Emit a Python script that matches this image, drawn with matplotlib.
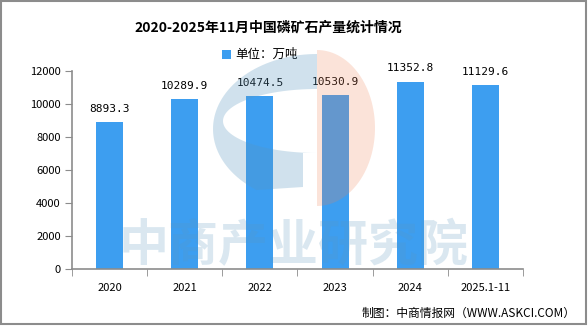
import numpy as np
import matplotlib.pyplot as plt
from matplotlib.patches import Rectangle, Polygon

plt.rcParams['font.family'] = ['Noto Sans CJK SC', 'DejaVu Sans']

years = ['2020', '2021', '2022', '2023', '2024', '2025.1-11']
output = [8893.3, 10289.9, 10474.5, 10530.9, 11352.8, 11129.6]
value_text = ['8893.3', '10289.9', '10474.5', '10530.9', '11352.8', '11129.6']

bar_color = '#3d9ef0'
axis_color = '#8c8c8c'

fig = plt.figure(figsize=(5.88, 3.27), dpi=100)
ax = fig.add_axes([0.1224, 0.177, 0.7670, 0.606])

x = np.arange(len(years))
ax.bar(x, output, width=0.36, color=bar_color, zorder=2)
for xi, v, t in zip(x, output, value_text):
    ax.annotate(t, (xi, v), xytext=(0, 6), textcoords='offset points',
                ha='center', va='bottom', fontsize=8,
                family=['DejaVu Sans Mono'])

ax.set_xlim(-0.5, len(years) - 0.5)
ax.set_ylim(0, 12000)
ax.set_yticks(np.arange(0, 12001, 2000))
ax.set_xticks(x)
ax.set_xticklabels(years)
ax.set_xticks(np.arange(-0.5, len(years), 1.0), minor=True)
ax.tick_params(axis='x', which='major', length=0, pad=10, labelsize=8)
ax.tick_params(axis='x', which='minor', length=5, color=axis_color, direction='out')
ax.tick_params(axis='y', length=5, color=axis_color, labelsize=8, pad=3)
for s in ['top', 'right']:
    ax.spines[s].set_visible(False)
for s in ['left', 'bottom']:
    ax.spines[s].set_color(axis_color)
    ax.spines[s].set_linewidth(1.2)

# watermark logo drawn over the plot in figure pixels
W, H = 588.0, 327.0
def px(points):
    return [(a / W, 1 - b / H) for a, b in points]

cx, cy = 317.0, 129.0
t_out = np.linspace(np.pi / 2, 3 * np.pi / 2 - 0.62, 60)
outer = [(cx + 104 * np.cos(t), cy - 75 * np.sin(t)) for t in t_out]
t_in = np.linspace(3 * np.pi / 2, np.pi / 2, 60)
inner = [(cx + 94 * np.cos(t), 121 - 32 * np.sin(t)) for t in t_in]
c_shape = outer + [(303, 187), (303, 153)] + inner
fig.patches.append(Polygon(px(c_shape), closed=True, transform=fig.transFigure,
                           facecolor=(0.35, 0.59, 0.75), alpha=0.28,
                           edgecolor='none', zorder=5))
t_half = np.linspace(-np.pi / 2, np.pi / 2, 60)
half = [(cx + 58 * np.cos(t), 128 - 78 * np.sin(t)) for t in t_half]
fig.patches.append(Polygon(px(half), closed=True, transform=fig.transFigure,
                           facecolor=(0.94, 0.5, 0.33), alpha=0.22,
                           edgecolor='none', zorder=5))
fig.text(0.50, 0.245, '中商产业研究院', ha='center', va='center', fontsize=36,
         fontweight='bold', color=(0.35, 0.59, 0.75), alpha=0.22, zorder=6)

fig.text(0.456, 0.915, '2020-2025年11月中国磷矿石产量统计情况', ha='center',
         va='center', fontsize=10, fontweight='bold')
fig.patches.append(Rectangle((222 / W, 1 - 59 / H), 9 / W, 9 / H,
                             transform=fig.transFigure, facecolor=bar_color,
                             edgecolor='none'))
fig.text(235 / W, 1 - 54 / H, '单位：万吨', ha='left', va='center', fontsize=9)
fig.text(0.978, 0.043, '制图：中商情报网（WWW.ASKCI.COM）', ha='right',
         va='center', fontsize=8.5)

fig.patches.append(Rectangle((0.001, 0.008), 0.996, 0.99, transform=fig.transFigure,
                             fill=False, edgecolor='#8c8c8c', linewidth=1.5))

fig.savefig('out.png', dpi=100)
